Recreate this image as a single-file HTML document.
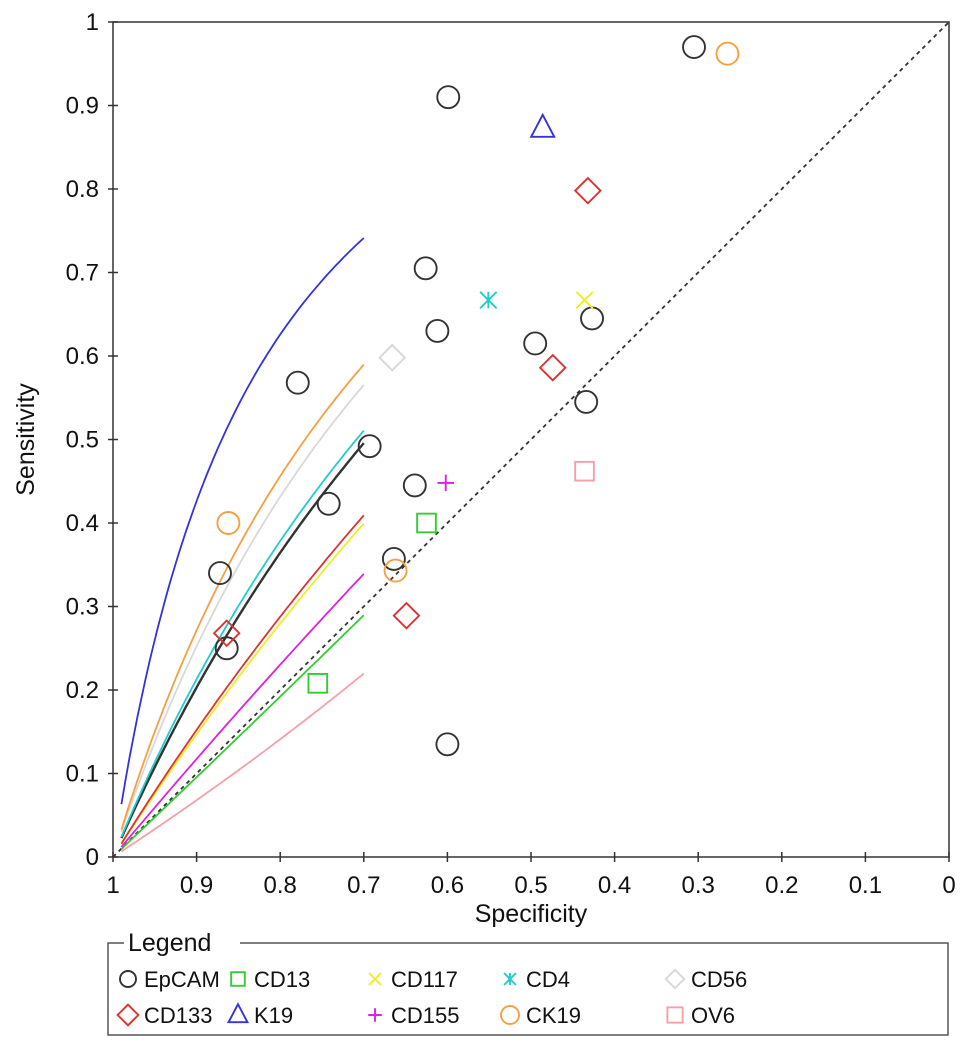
<!DOCTYPE html>
<html><head><meta charset="utf-8"><style>
body{margin:0;background:#fff;}
svg text{font-family:"Liberation Sans",Arial,sans-serif;fill:#111;}
</style></head><body>
<svg id="chart" width="969" height="1049" xmlns="http://www.w3.org/2000/svg">
<g id="plot"></g>
</svg>
<script>
const xTicks=[1,0.9,0.8,0.7,0.6,0.5,0.4,0.3,0.2,0.1,0];
const yTicks=[0,0.1,0.2,0.3,0.4,0.5,0.6,0.7,0.8,0.9,1];
const tickLabels=["0","0.1","0.2","0.3","0.4","0.5","0.6","0.7","0.8","0.9","1"];
const seriesNames=["EpCAM","CD13","CD117","CD4","CD56","CD133","K19","CD155","CK19","OV6"];
const seriesColors=["#333333","#33cc33","#eeee22","#22cccc","#d8d8d8","#dd3333","#3333dd","#dd22dd","#f5a040","#f5a0a8"];
const seriesMarkers=["circle","square","x","star","diamond","diamond","triangle","plus","circle","square"];
// SROC intercepts (logit scale, slope 1)
const curveA=[0.83,-0.05,0.44,0.89,1.11,0.48,1.9,0.18,1.21,-0.42];
// study points: [specificity, sensitivity]
const epcamSpec=[0.305,0.599,0.626,0.612,0.495,0.427,0.434,0.779,0.693,0.742,0.639,0.664,0.872,0.864,0.600];
const epcamSens=[0.97,0.91,0.705,0.63,0.615,0.645,0.545,0.568,0.492,0.423,0.445,0.357,0.34,0.25,0.135];
const cd13Spec=[0.625,0.755],cd13Sens=[0.40,0.208];
const cd117Spec=[0.436],cd117Sens=[0.667];
const cd4Spec=[0.551],cd4Sens=[0.667];
const cd56Spec=[0.666],cd56Sens=[0.598];
const cd133Spec=[0.432,0.474,0.649,0.864],cd133Sens=[0.798,0.586,0.289,0.268];
const k19Spec=[0.486],k19Sens=[0.873];
const cd155Spec=[0.602],cd155Sens=[0.448];
const ck19Spec=[0.265,0.862,0.662],ck19Sens=[0.962,0.40,0.343];
const ov6Spec=[0.436],ov6Sens=[0.462];
const allSpec=[epcamSpec,cd13Spec,cd117Spec,cd4Spec,cd56Spec,cd133Spec,k19Spec,cd155Spec,ck19Spec,ov6Spec];
const allSens=[epcamSens,cd13Sens,cd117Sens,cd4Sens,cd56Sens,cd133Sens,k19Sens,cd155Sens,ck19Sens,ov6Sens];

const NS="http://www.w3.org/2000/svg";
const X0=113,X1=949,Y0=857,Y1=22;
const sx=s=>X1-(X1-X0)*s;
const sy=v=>Y0-(Y0-Y1)*v;
const g=document.getElementById('plot');
function mk(tag,attrs,parent){const e=document.createElementNS(NS,tag);for(const k in attrs)e.setAttribute(k,attrs[k]);(parent||g).appendChild(e);return e;}

let frame=mk('rect',{x:X0,y:Y1,width:X1-X0,height:Y0-Y1,fill:'none',stroke:'#333','stroke-width':1.5});


xTicks.forEach((t,i)=>{
  const l=mk('line',{x1:sx(t),x2:sx(t),y1:Y0-5,y2:Y0+5,stroke:'#333','stroke-width':1.5});
  
  
  const tx=mk('text',{x:sx(t),y:Y0+36,'text-anchor':'middle','font-size':24});
  tx.textContent=t===1?"1":t===0?"0":t.toFixed(1);
  
  
});
yTicks.forEach((t,i)=>{
  const l=mk('line',{x1:X0-5,x2:X0+5,y1:sy(t),y2:sy(t),stroke:'#333','stroke-width':1.5});
  
  
  const tx=mk('text',{x:X0-14,y:sy(t)+8,'text-anchor':'end','font-size':24});
  tx.textContent=tickLabels[i];
  
  
});
let xt=mk('text',{x:sx(0.5),y:922,'text-anchor':'middle','font-size':25});xt.textContent="Specificity";


let yt=mk('text',{x:34,y:sy(0.5),'text-anchor':'middle','font-size':25,transform:`rotate(-90 34 ${sy(0.5)})`});yt.textContent="Sensitivity";



let diag=mk('line',{x1:sx(1),y1:sy(0),x2:sx(0),y2:sy(1),stroke:'#333','stroke-width':1.8,'stroke-dasharray':'4,4'});



const logit=p=>Math.log(p/(1-p)), inv=z=>1/(1+Math.exp(-z));
curveA.forEach((A,i)=>{
  let d='';
  for(let k=0;k<=60;k++){const f=0.01+(0.3-0.01)*k/60;const s=inv(A+logit(f));d+=(k?'L':'M')+sx(1-f).toFixed(1)+','+sy(s).toFixed(1);}
  const p=mk('path',{d,fill:'none',stroke:seriesColors[i],'stroke-width':i===0?2.4:1.8});
  
  
});

function marker(type,cx,cy,col,r,parent){
  const a={fill:'none',stroke:col,'stroke-width':1.9};
  if(type==='circle')return mk('circle',Object.assign({cx,cy,r},a),parent);
  if(type==='square')return mk('rect',Object.assign({x:cx-r*0.85,y:cy-r*0.85,width:r*1.7,height:r*1.7},a),parent);
  if(type==='diamond')return mk('path',Object.assign({d:`M${cx},${cy-r*1.15}L${cx+r*1.15},${cy}L${cx},${cy+r*1.15}L${cx-r*1.15},${cy}Z`},a),parent);
  if(type==='triangle')return mk('path',Object.assign({d:`M${cx},${cy-r*1.2}L${cx+r*1.05},${cy+r*0.8}L${cx-r*1.05},${cy+r*0.8}Z`},a),parent);
  const s=r*0.75;let d;
  if(type==='x')d=`M${cx-s},${cy-s}L${cx+s},${cy+s}M${cx+s},${cy-s}L${cx-s},${cy+s}`;
  else if(type==='plus')d=`M${cx-s},${cy}L${cx+s},${cy}M${cx},${cy-s}L${cx},${cy+s}`;
  else d=`M${cx-s},${cy-s}L${cx+s},${cy+s}M${cx+s},${cy-s}L${cx-s},${cy+s}M${cx},${cy-s}L${cx},${cy+s}`;
  return mk('path',Object.assign({d},a),parent);
}
allSpec.forEach((arr,i)=>{
  arr.forEach((sp,j)=>{
    const m=marker(seriesMarkers[i],sx(sp),sy(allSens[i][j]),seriesColors[i],11);
    
    
  });
});

// legend
const lg=mk('g',{});


mk('path',{d:'M124,943L108,943L108,1035L948,1035L948,943L240,943',fill:'none',stroke:'#555','stroke-width':1.5},lg);
let lt=mk('text',{x:128,y:951,'font-size':25},lg);lt.textContent="Legend";


const colX=[128,238,375,510,675];
seriesNames.forEach((n,i)=>{
  const col=i%5,row=Math.floor(i/5);
  const cx=colX[col],cy=row?1015:979;
  const e=mk('g',{},lg);
  
  
  marker(seriesMarkers[i],cx,cy,seriesColors[i],row?9:8,e);
  const t=mk('text',{x:cx+16,y:cy+8,'font-size':22},e);t.textContent=n;
});
</script>
</body></html>
